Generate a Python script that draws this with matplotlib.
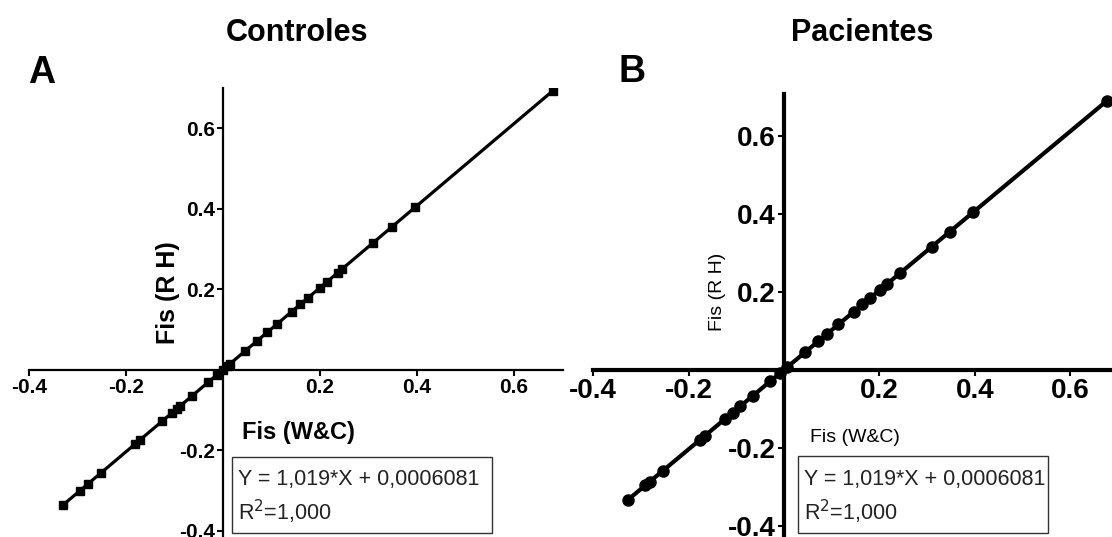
import numpy as np
import matplotlib
matplotlib.use("Agg")
import matplotlib.pyplot as plt

# fonte tipo Arial para todo o texto
plt.rcParams['font.family'] = ['Liberation Sans Narrow', 'Liberation Sans', 'DejaVu Sans']

# Fis por locus: Weir & Cockerham (x) vs Robertson & Hill (y)
fis_wc_controles = [-0.330, -0.295, -0.278, -0.251, -0.181, -0.171, -0.126, -0.105,
                    -0.095, -0.089, -0.064, -0.031, -0.012, 0.000, 0.010, 0.014,
                    0.045, 0.070, 0.091, 0.111, 0.142, 0.159, 0.175, 0.200,
                    0.214, 0.237, 0.245, 0.309, 0.348, 0.396, 0.680]
fis_rh_controles = [-0.336, -0.300, -0.283, -0.255, -0.184, -0.174, -0.128, -0.106,
                    -0.096, -0.090, -0.065, -0.031, -0.012, 0.001, 0.011, 0.015,
                    0.046, 0.072, 0.093, 0.114, 0.145, 0.163, 0.179, 0.204,
                    0.219, 0.242, 0.250, 0.315, 0.355, 0.404, 0.693]

fis_wc_pacientes = [-0.327, -0.291, -0.281, -0.254, -0.176, -0.166, -0.124, -0.107,
                    -0.092, -0.065, -0.029, -0.008, 0.007, 0.044, 0.072, 0.091,
                    0.114, 0.146, 0.164, 0.181, 0.202, 0.216, 0.243, 0.310,
                    0.348, 0.396, 0.677]
fis_rh_pacientes = [-0.333, -0.296, -0.286, -0.258, -0.179, -0.169, -0.126, -0.109,
                    -0.093, -0.066, -0.029, -0.008, 0.008, 0.045, 0.074, 0.093,
                    0.117, 0.149, 0.168, 0.185, 0.206, 0.221, 0.248, 0.316,
                    0.355, 0.404, 0.690]

# regressao linear (mesma equacao nos dois grupos)
inclinacao = 1.019
intercepto = 0.0006081
r2 = 1.000

ticks_x = [-0.4, -0.2, 0.2, 0.4, 0.6]
ticks_y = [-0.4, -0.2, 0.2, 0.4, 0.6]


def eixos_cruzados(ax, lw, tick_fs):
    # eixos passando pela origem
    ax.spines['left'].set_position(('data', 0))
    ax.spines['bottom'].set_position(('data', 0))
    ax.spines['top'].set_visible(False)
    ax.spines['right'].set_visible(False)
    ax.spines['left'].set_linewidth(lw)
    ax.spines['bottom'].set_linewidth(lw)
    ax.set_xticks(ticks_x)
    ax.set_yticks(ticks_y)
    ax.set_xticklabels([str(t) for t in ticks_x])
    ax.set_yticklabels([str(t) for t in ticks_y])
    ax.tick_params(direction='out', length=4, width=1.5, labelsize=tick_fs, pad=2)
    for lab in ax.get_xticklabels() + ax.get_yticklabels():
        lab.set_fontweight('bold')
    ax.patch.set_alpha(0)


def texto_regressao(fig, x, y, w, h, fs):
    fig.patches.append(plt.Rectangle((x, y), w, h, transform=fig.transFigure,
                                     fill=False, edgecolor='#333333', lw=1.0))
    fig.text(x + 0.005, y + h * 0.70, "Y = {:.3f}*X + {:.7f}".format(inclinacao, intercepto).replace('.', ','),
             fontsize=fs, va='center', ha='left', color='#222222')
    fig.text(x + 0.005, y + h * 0.28, "R$^2$=" + "{:.3f}".format(r2).replace('.', ','),
             fontsize=fs, va='center', ha='left', color='#222222')


fig = plt.figure(figsize=(11.12, 5.37), dpi=100)

# ---------------- A: Controles ----------------
axA = fig.add_axes([0.0261, -0.0037, 0.4798, 0.8395])
xa = np.array(fis_wc_controles)
axA.plot([xa.min(), xa.max()], [inclinacao * xa.min() + intercepto, inclinacao * xa.max() + intercepto],
         color='black', lw=2.3, zorder=2)
axA.plot(fis_wc_controles, fis_rh_controles, 's', color='black', ms=5.5, zorder=3)
axA.set_xlim(-0.4, 0.7)
axA.set_ylim(-0.42, 0.70)
eixos_cruzados(axA, 1.6, 15)

# ---------------- B: Pacientes ----------------
axB = fig.add_axes([0.5335, -0.0013, 0.4719, 0.8265])
xb = np.array(fis_wc_pacientes)
axB.plot([xb.min(), xb.max()], [inclinacao * xb.min() + intercepto, inclinacao * xb.max() + intercepto],
         color='black', lw=3.0, zorder=2)
axB.plot(fis_wc_pacientes, fis_rh_pacientes, 'o', color='black', ms=8, zorder=3)
axB.set_xlim(-0.4, 0.7)
axB.set_ylim(-0.43, 0.708)
eixos_cruzados(axB, 3.0, 20)

# titulos e letras dos paineis
fig.text(297 / 1112, 1 - 33 / 537, "Controles", fontsize=22, fontweight='bold', ha='center', va='center')
fig.text(862 / 1112, 1 - 33 / 537, "Pacientes", fontsize=22, fontweight='bold', ha='center', va='center')
fig.text(42 / 1112, 1 - 73 / 537, "A", fontsize=27, fontweight='bold', ha='center', va='center')
fig.text(632 / 1112, 1 - 72 / 537, "B", fontsize=27, fontweight='bold', ha='center', va='center')

# rotulos dos eixos
fig.text(168 / 1112, 1 - 293 / 537, "Fis (R H)", fontsize=18, fontweight='bold', rotation=90,
         ha='center', va='center')
fig.text(718 / 1112, 1 - 292 / 537, "Fis (R H)", fontsize=14, rotation=90,
         ha='center', va='center')
fig.text(242 / 1112, 1 - 432 / 537, "Fis (W&C)", fontsize=17, fontweight='bold', ha='left', va='center')
fig.text(810 / 1112, 1 - 438 / 537, "Fis (W&C)", fontsize=14, ha='left', va='center')

# caixas com a equacao da reta
texto_regressao(fig, 232 / 1112, 1 - 533 / 537, 260 / 1112, 76 / 537, 15.5)
texto_regressao(fig, 798 / 1112, 1 - 533 / 537, 250 / 1112, 77 / 537, 15.5)

fig.savefig("out.png", dpi=100)
